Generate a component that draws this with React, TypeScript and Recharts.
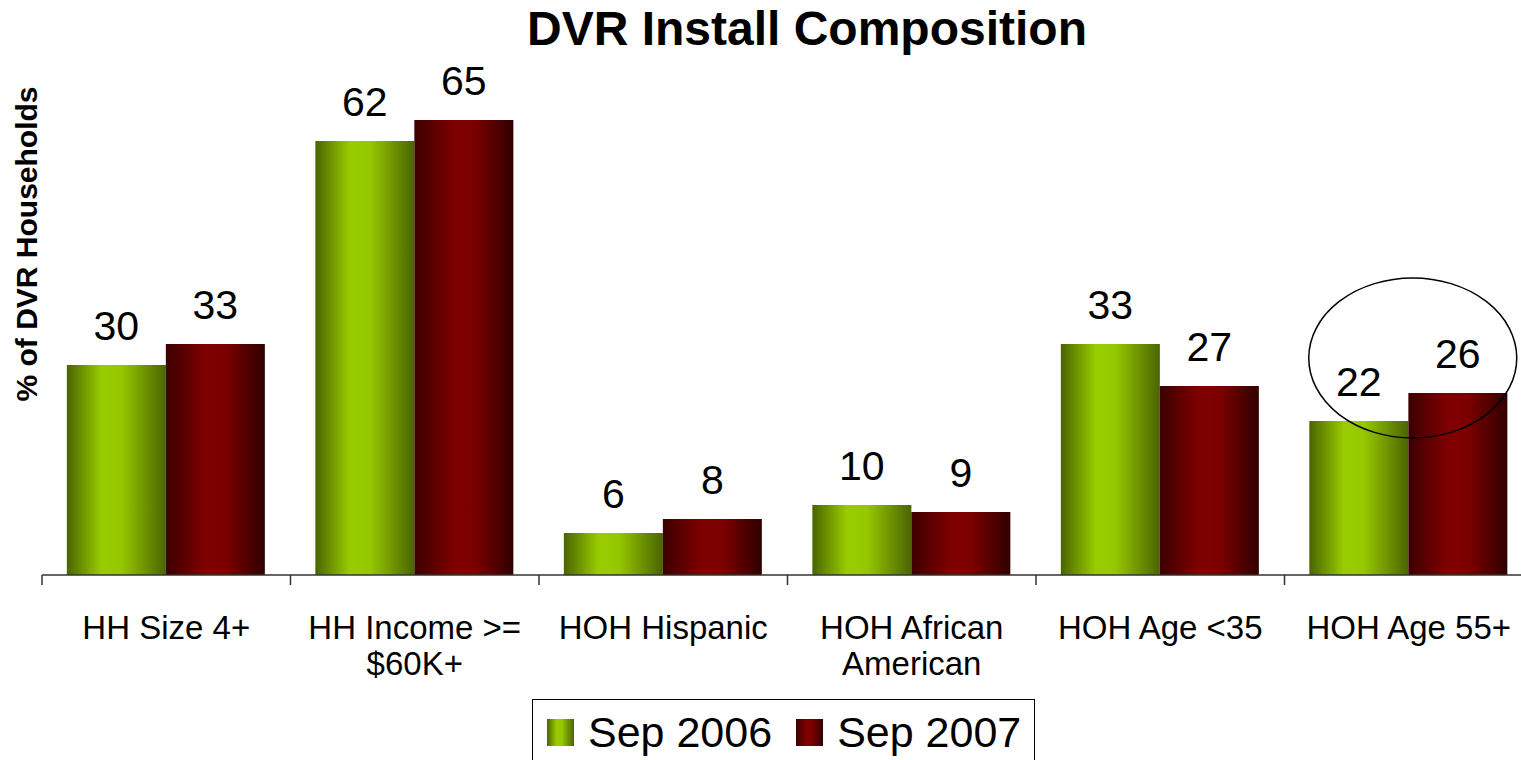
import React from 'react';
import { BarChart, Bar, XAxis, YAxis, Legend, LabelList, ReferenceDot } from 'recharts';

const categories = ['HH Size 4+', 'HH Income >=\n$60K+', 'HOH Hispanic', 'HOH African\nAmerican', 'HOH Age <35', 'HOH Age 55+'];
const sep2006 = [30, 62, 6, 10, 33, 22];
const sep2007 = [33, 65, 8, 9, 27, 26];
const seriesNames = ['Sep 2006', 'Sep 2007'];
// highlighted group (circled in the source slide)
const circledCategory = 'HOH Age 55+';
const circledCenterValue = 31;

const FONT = '"Liberation Sans", Arial, Helvetica, sans-serif';

const data = categories.map((c, i) => ({ name: c, s2006: sep2006[i], s2007: sep2007[i] }));

function CategoryTick(props: any) {
  const { x, y, payload } = props;
  const half = payload && payload.offset ? payload.offset : 124;
  const lines = String(payload.value).split('\n');
  return (
    <g>
      <line x1={x - half} y1={y} x2={x - half} y2={y + 10} stroke="#333" strokeWidth={1.5} />
      <text x={x} y={y + 64} textAnchor="middle" fontSize={33} fontFamily={FONT} fill="#000">
        {lines.map((l, i) => (
          <tspan key={i} x={x} dy={i === 0 ? 0 : 36}>{l}</tspan>
        ))}
      </text>
    </g>
  );
}

function LegendBox(props: any) {
  const items = [
    { name: seriesNames[0], fill: 'url(#gGreen)' },
    { name: seriesNames[1], fill: 'url(#gRed)' },
  ];
  return (
    <div style={{ width: 501, height: 64, border: '1.5px solid #000', display: 'flex', alignItems: 'center', fontFamily: FONT, fontSize: 43, color: '#000', background: '#fff' }}>
      {items.map((it, i) => (
        <div key={i} style={{ display: 'flex', alignItems: 'center', marginLeft: i === 0 ? 14 : 24 }}>
          <svg width={27} height={27} style={{ display: 'block' }}>
            <rect width={27} height={27} fill={it.fill} />
          </svg>
          <span style={{ marginLeft: 14, whiteSpace: 'nowrap', lineHeight: 1 }}>{it.name}</span>
        </div>
      ))}
    </div>
  );
}

function Ellipse(props: any) {
  const { cx, cy } = props;
  return <ellipse cx={cx + 4} cy={cy} rx={104} ry={80} fill="none" stroke="#000" strokeWidth={1.5} />;
}

export default function App() {
  return (
    <div style={{ position: 'absolute', left: 0, top: 0, width: 1521, height: 760, overflow: 'hidden', background: '#fff' }}>
      <BarChart
        width={1533}
        height={780}
        data={data}
        margin={{ top: 85, right: 0, left: 42, bottom: 95 }}
        barCategoryGap="10%"
        barGap={0}
      >
        <defs>
          <linearGradient id="gGreen" x1="0" y1="0" x2="1" y2="0">
            <stop offset="0%" stopColor="#4a6400" />
            <stop offset="35%" stopColor="#99cc00" />
            <stop offset="55%" stopColor="#96c800" />
            <stop offset="100%" stopColor="#4a6400" />
          </linearGradient>
          <linearGradient id="gRed" x1="0" y1="0" x2="1" y2="0">
            <stop offset="0%" stopColor="#3c0000" />
            <stop offset="40%" stopColor="#800000" />
            <stop offset="60%" stopColor="#7c0000" />
            <stop offset="100%" stopColor="#300000" />
          </linearGradient>
        </defs>
        <XAxis
          dataKey="name"
          height={110}
          axisLine={{ stroke: '#333', strokeWidth: 1.5 }}
          tickLine={false}
          tickSize={0}
          tickMargin={0}
          interval={0}
          tick={<CategoryTick />}
        />
        <YAxis hide domain={[0, 70]} />
        <Legend
          layout="horizontal"
          align="center"
          verticalAlign="middle"
          content={<LegendBox />}
          wrapperStyle={{ position: 'absolute', left: 532, top: 699, width: 504, height: 70 }}
        />
        <Bar dataKey="s2006" name={seriesNames[0]} fill="url(#gGreen)" isAnimationActive={false}>
          <LabelList dataKey="s2006" position="top" offset={25} fontSize={41} fontFamily={FONT} fill="#000" />
        </Bar>
        <Bar dataKey="s2007" name={seriesNames[1]} fill="url(#gRed)" isAnimationActive={false}>
          <LabelList dataKey="s2007" position="top" offset={25} fontSize={41} fontFamily={FONT} fill="#000" />
        </Bar>
        <ReferenceDot x={circledCategory} y={circledCenterValue} shape={<Ellipse />} ifOverflow="visible" />
      </BarChart>
      <svg width={1521} height={760} style={{ position: 'absolute', left: 0, top: 0, pointerEvents: 'none' }}>
        <text x={807} y={45} textAnchor="middle" fontSize={48} fontWeight="bold" fontFamily={FONT} fill="#000">
          DVR Install Composition
        </text>
        <text x={37} y={244} transform="rotate(-90 37 244)" textAnchor="middle" fontSize={30} fontWeight="bold" fontFamily={FONT} fill="#000">
          % of DVR Households
        </text>
      </svg>
    </div>
  );
}
